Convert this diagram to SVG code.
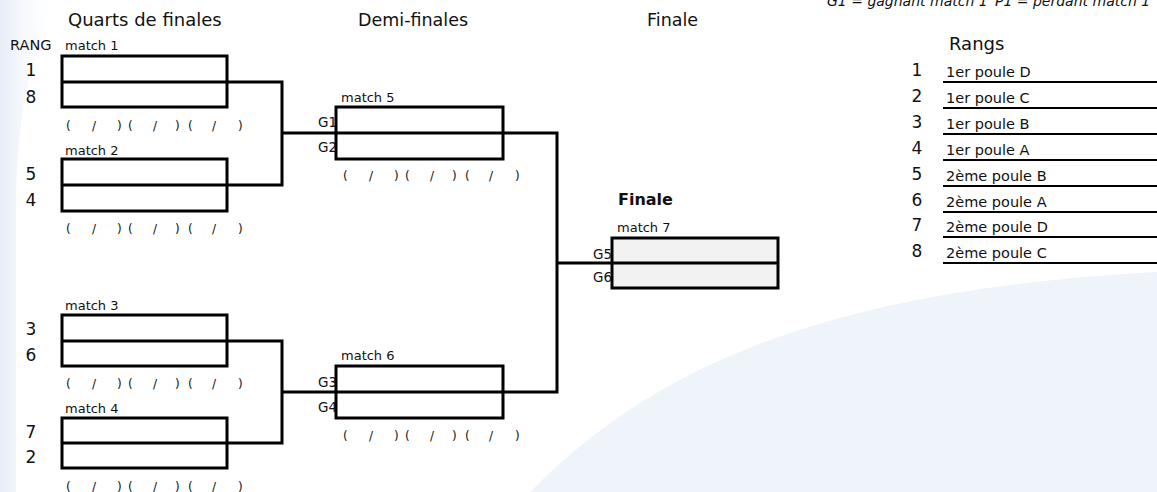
<svg xmlns="http://www.w3.org/2000/svg" width="1157" height="492" viewBox="0 0 1157 492">
<style>
text{font-family:"DejaVu Sans","Liberation Sans",sans-serif;fill:#111}
.h{font-size:17.5px}
.lbl{font-size:13px}
.rk{font-size:17px;text-anchor:middle}
.g{font-size:13.5px;text-anchor:end}
.br{font-size:12px}
.rn{font-size:14.5px}
.box{fill:#fff;stroke:#000;stroke-width:3}
.box7{fill:#f2f2f2;stroke:#000;stroke-width:3}
.ln{fill:none;stroke:#000;stroke-width:3}
.ul{stroke:#000;stroke-width:2}
</style>
<defs>
<linearGradient id="lg" x1="0" y1="0" x2="1" y2="0">
<stop offset="0" stop-color="#e6edf8"/>
<stop offset="1" stop-color="#ffffff" stop-opacity="0"/>
</linearGradient>
</defs>
<rect width="1157" height="492" fill="#fff"/>
<path d="M0 0 L60 0 C35 40 18 100 16 200 L16 492 L0 492 Z" fill="url(#lg)"/>
<path d="M530 492 C650 370 820 290 1157 272 L1157 492 Z" fill="#eff3fa"/>

<text y="6" style="font-size:14px;font-style:italic"><tspan x="827">G1 = gagnant match 1</tspan><tspan x="995">P1 = perdant match 1</tspan></text>

<g id="headers">
<text class="h" x="68" y="26" style="font-size:18px">Quarts de finales</text>
<text class="h" x="358" y="26">Demi-finales</text>
<text class="h" x="647" y="26">Finale</text>
<text x="10" y="50" style="font-size:14.5px">RANG</text>
</g>

<g id="connectors">
<path class="ln" d="M227 82 H282 V185 H227"/>
<path class="ln" d="M282 133 H336"/>
<path class="ln" d="M227 341 H282 V443 H227"/>
<path class="ln" d="M282 392 H336"/>
<path class="ln" d="M336 133 H557 V392 H336"/>
<path class="ln" d="M557 263 H612"/>
</g>

<g id="match1">
<text class="lbl" x="65" y="50">match 1</text>
<rect class="box" x="62" y="56" width="165" height="51"/>
<line class="ln" x1="62" y1="82" x2="227" y2="82"/>
<text class="rk" x="31" y="76">1</text>
<text class="rk" x="31" y="103">8</text>
<text class="br" x="66 92 117 128 153 175 188 212 238" y="130">(/)(/)(/)</text>
</g>

<g id="match2">
<text class="lbl" x="65" y="155">match 2</text>
<rect class="box" x="62" y="159" width="165" height="52"/>
<line class="ln" x1="62" y1="185" x2="227" y2="185"/>
<text class="rk" x="31" y="180">5</text>
<text class="rk" x="31" y="206">4</text>
<text class="br" x="66 92 117 128 153 175 188 212 238" y="233">(/)(/)(/)</text>
</g>

<g id="match3">
<text class="lbl" x="65" y="310">match 3</text>
<rect class="box" x="62" y="315" width="165" height="51"/>
<line class="ln" x1="62" y1="341" x2="227" y2="341"/>
<text class="rk" x="31" y="335">3</text>
<text class="rk" x="31" y="361">6</text>
<text class="br" x="66 92 117 128 153 175 188 212 238" y="388">(/)(/)(/)</text>
</g>

<g id="match4">
<text class="lbl" x="65" y="413">match 4</text>
<rect class="box" x="62" y="418" width="165" height="50"/>
<line class="ln" x1="62" y1="443" x2="227" y2="443"/>
<text class="rk" x="31" y="438">7</text>
<text class="rk" x="31" y="463">2</text>
<text class="br" x="66 92 117 128 153 175 188 212 238" y="491">(/)(/)(/)</text>
</g>

<g id="match5">
<text class="lbl" x="341" y="102">match 5</text>
<rect class="box" x="336" y="107" width="167" height="52"/>
<line class="ln" x1="336" y1="133" x2="503" y2="133"/>
<text class="g" x="337" y="127">G1</text>
<text class="g" x="337" y="152">G2</text>
<text class="br" x="343 369 394 405 430 452 465 489 515" y="180">(/)(/)(/)</text>
</g>

<g id="match6">
<text class="lbl" x="341" y="360">match 6</text>
<rect class="box" x="336" y="366" width="167" height="52"/>
<line class="ln" x1="336" y1="392" x2="503" y2="392"/>
<text class="g" x="337" y="387">G3</text>
<text class="g" x="337" y="412">G4</text>
<text class="br" x="343 369 394 405 430 452 465 489 515" y="440">(/)(/)(/)</text>
</g>

<g id="match7">
<text x="618" y="205" style="font-size:16px;font-weight:bold">Finale</text>
<text class="lbl" x="617" y="232">match 7</text>
<rect class="box7" x="612" y="238" width="166" height="50"/>
<line class="ln" x1="612" y1="263" x2="778" y2="263"/>
<text class="g" x="612" y="259">G5</text>
<text class="g" x="612" y="282">G6</text>
</g>

<g id="rangs">
<text x="949" y="50" style="font-size:18px">Rangs</text>
<text class="rk" x="917" y="76">1</text><text class="rn" x="946" y="77">1er poule D</text><line class="ul" x1="943" y1="82" x2="1157" y2="82"/>
<text class="rk" x="917" y="102">2</text><text class="rn" x="946" y="103">1er poule C</text><line class="ul" x1="943" y1="108" x2="1157" y2="108"/>
<text class="rk" x="917" y="128">3</text><text class="rn" x="946" y="129">1er poule B</text><line class="ul" x1="943" y1="134" x2="1157" y2="134"/>
<text class="rk" x="917" y="154">4</text><text class="rn" x="946" y="155">1er poule A</text><line class="ul" x1="943" y1="160" x2="1157" y2="160"/>
<text class="rk" x="917" y="180">5</text><text class="rn" x="946" y="181">2ème poule B</text><line class="ul" x1="943" y1="186" x2="1157" y2="186"/>
<text class="rk" x="917" y="206">6</text><text class="rn" x="946" y="207">2ème poule A</text><line class="ul" x1="943" y1="212" x2="1157" y2="212"/>
<text class="rk" x="917" y="231">7</text><text class="rn" x="946" y="232">2ème poule D</text><line class="ul" x1="943" y1="237" x2="1157" y2="237"/>
<text class="rk" x="917" y="257">8</text><text class="rn" x="946" y="258">2ème poule C</text><line class="ul" x1="943" y1="263" x2="1157" y2="263"/>
</g>
</svg>
